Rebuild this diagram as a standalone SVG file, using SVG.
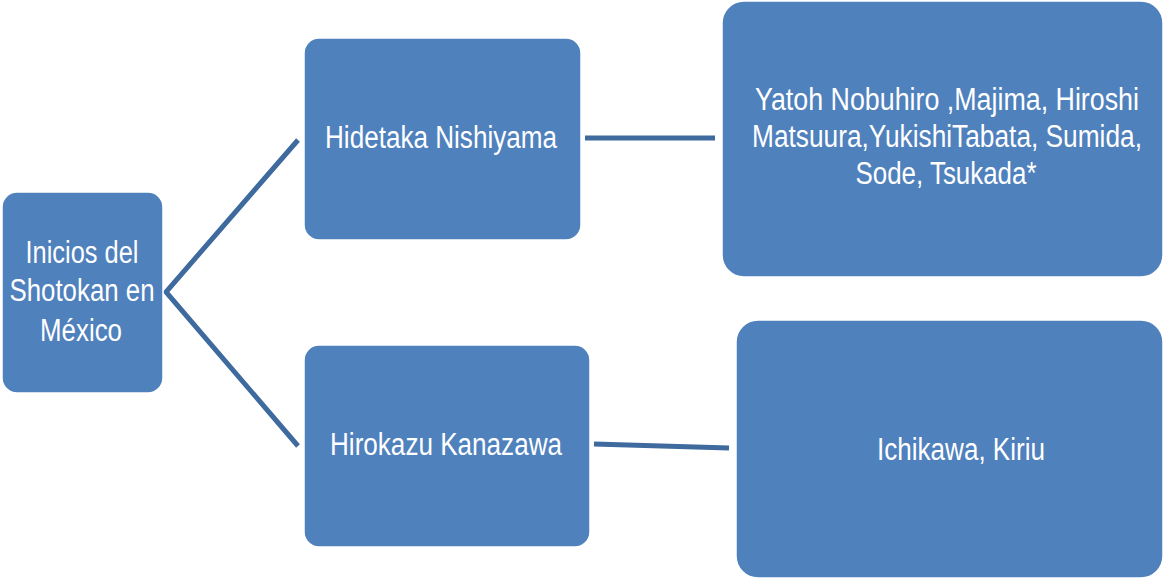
<svg xmlns="http://www.w3.org/2000/svg" width="1164" height="580" viewBox="0 0 1164 580">
<style>
.node{fill:#4F81BD;stroke:#ffffff;stroke-width:1.5}
.lbl{font-family:"Liberation Sans",Arial,sans-serif;font-size:31px;fill:#ffffff;text-anchor:middle}
.conn{stroke:#3E6A9E;stroke-width:5;fill:none}
</style>
<rect width="1164" height="580" fill="#ffffff"/>
<g id="connectors">
<polyline class="conn" points="298,140 166,292 298,446"/>
<line class="conn" x1="585" y1="138" x2="715" y2="138"/>
<line class="conn" x1="594" y1="444" x2="729" y2="448"/>
</g>
<g id="root">
<rect class="node" x="2" y="192" width="161" height="201" rx="15"/>
<text class="lbl" x="82" y="263" textLength="113" lengthAdjust="spacingAndGlyphs">Inicios del</text>
<text class="lbl" x="82" y="301" textLength="145" lengthAdjust="spacingAndGlyphs">Shotokan en</text>
<text class="lbl" x="81" y="341" textLength="82" lengthAdjust="spacingAndGlyphs">México</text>
</g>
<g id="hidetaka">
<rect class="node" x="304" y="38" width="277" height="202" rx="15"/>
<text class="lbl" x="441" y="148" textLength="232" lengthAdjust="spacingAndGlyphs">Hidetaka Nishiyama</text>
</g>
<g id="hirokazu">
<rect class="node" x="304" y="345" width="286" height="202" rx="15"/>
<text class="lbl" x="446" y="455" textLength="232" lengthAdjust="spacingAndGlyphs">Hirokazu Kanazawa</text>
</g>
<g id="students1">
<rect class="node" x="722" y="1" width="441" height="276" rx="22"/>
<text class="lbl" x="947" y="110" textLength="384" lengthAdjust="spacingAndGlyphs">Yatoh Nobuhiro ,Majima, Hiroshi</text>
<text class="lbl" x="947" y="147" textLength="390" lengthAdjust="spacingAndGlyphs">Matsuura,YukishiTabata, Sumida,</text>
<text class="lbl" x="946" y="184" textLength="181" lengthAdjust="spacingAndGlyphs">Sode, Tsukada*</text>
</g>
<g id="students2">
<rect class="node" x="736" y="320" width="427" height="258" rx="22"/>
<text class="lbl" x="961" y="460" textLength="168" lengthAdjust="spacingAndGlyphs">Ichikawa, Kiriu</text>
</g>
</svg>
